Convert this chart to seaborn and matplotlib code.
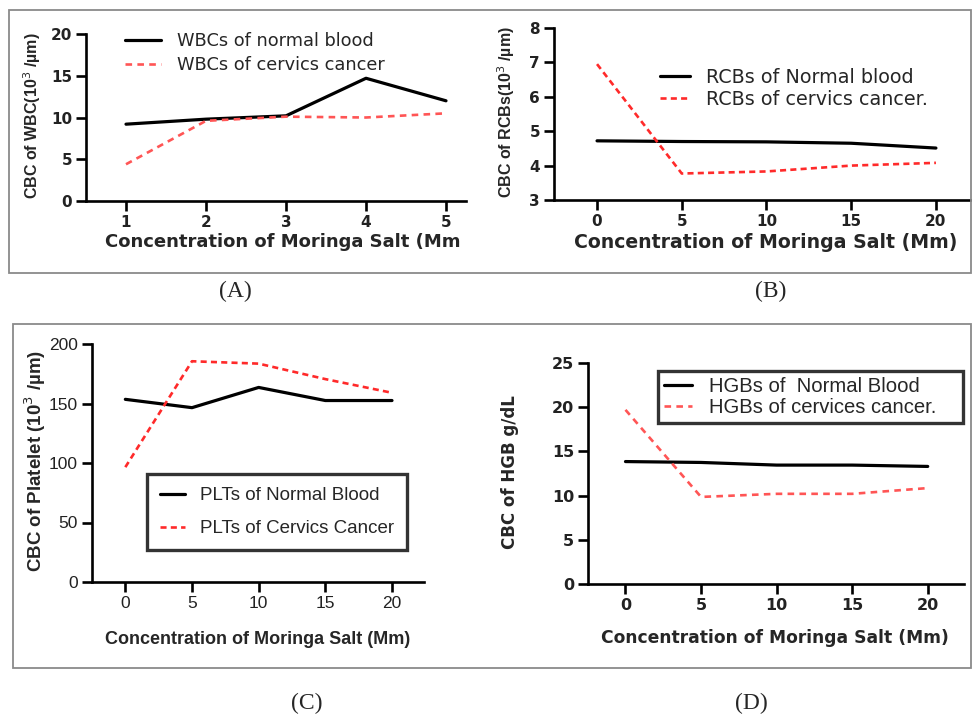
import numpy as np
import pandas as pd
import matplotlib
matplotlib.use("Agg")
import matplotlib.pyplot as plt
import seaborn as sns
from matplotlib.patches import Rectangle

# (A) white blood cells
wbc_conc = [1, 2, 3, 4, 5]
wbc_normal = [9.2, 9.8, 10.2, 14.7, 12.0]
wbc_cancer = [4.4, 9.6, 10.1, 10.0, 10.5]

# (B)-(D) share the concentration steps
conc = [0, 5, 10, 15, 20]
rbc_normal = [4.72, 4.70, 4.69, 4.65, 4.51]
rbc_cancer = [6.95, 3.77, 3.83, 4.00, 4.08]
plt_normal = [153.5, 146.5, 163.5, 152.5, 152.5]
plt_cancer = [96.5, 185.5, 183.5, 170.5, 159.0]
hgb_normal = [13.85, 13.75, 13.45, 13.45, 13.3]
hgb_cancer = [19.7, 9.85, 10.2, 10.2, 10.85]

xlabel = "Concentration of Moringa Salt (Mm)"

sns.set_style("ticks")
plt.rcParams["font.family"] = ["DejaVu Sans"]

W, H = 972, 715
fig = plt.figure(figsize=(W / 100, H / 100), dpi=100)

WIDE = ["DejaVu Sans"]
NARROW = ["Liberation Sans Narrow", "Liberation Sans"]
ARIAL = ["Liberation Sans"]
SERIF = ["Liberation Serif"]


def fx(x):
    return x / W


def fy(y):
    return 1 - y / H


def px_axes(x0, y0, x1, y1):
    return fig.add_axes([fx(x0), fy(y1), (x1 - x0) / W, (y1 - y0) / H])


def draw(ax, x, normal, cancer, lab_n, lab_c, red, dash):
    sns.lineplot(x=x, y=normal, color="black", lw=2.3, label=lab_n, ax=ax)
    sns.lineplot(x=x, y=cancer, color=red, lw=1.9, ls=(0, dash), label=lab_c, ax=ax)


def style(ax, xlim, ylim, xticks, yticks, tfont, tsize, tweight):
    ax.set_xlim(*xlim)
    ax.set_ylim(*ylim)
    ax.set_xticks(xticks)
    ax.set_yticks(yticks)
    sns.despine(ax=ax)
    for s in ["left", "bottom"]:
        ax.spines[s].set_linewidth(1.9)
        ax.spines[s].set_color("black")
    ax.tick_params(width=1.9, length=7, color="black", pad=3)
    for t in ax.get_xticklabels() + ax.get_yticklabels():
        t.set_family(tfont)
        t.set_fontsize(tsize)
        t.set_fontweight(tweight)
        t.set_color("#222222")


def labels(ax, ytext, yfont, ysize, ypos, xfont, xsize, xpos):
    ax.set_ylabel(ytext, family=yfont, fontsize=ysize, fontweight="bold")
    ax.yaxis.label.set_va("center")
    ax.yaxis.set_label_coords(fx(ypos[0]), fy(ypos[1]), transform=fig.transFigure)
    ax.set_xlabel(xlabel if xpos[2] else xlabel[:-1], family=xfont, fontsize=xsize,
                  fontweight="bold")
    ax.xaxis.label.set_va("center")
    ax.xaxis.set_label_coords(fx(xpos[0]), fy(xpos[1]), transform=fig.transFigure)


# grey frames round each row
fig.patches.append(Rectangle((fx(9), fy(273)), fx(962), 263 / H, transform=fig.transFigure,
                             fill=False, edgecolor="#8a8a8a", lw=1.3))
fig.patches.append(Rectangle((fx(13), fy(668)), fx(958), 344 / H, transform=fig.transFigure,
                             fill=False, edgecolor="#8a8a8a", lw=1.3))

# ---- (A)
axA = px_axes(86, 34, 466, 201)
draw(axA, wbc_conc, wbc_normal, wbc_cancer, "WBCs of normal blood",
     "WBCs of cervics cancer", "#ff5555", (2.5, 2.0))
style(axA, (0.5, 5.25), (0, 20), wbc_conc, [0, 5, 10, 15, 20], WIDE, 11, "bold")
labels(axA, "CBC of WBC(10$^3$ /µm)", NARROW, 11.5, (32, 116), WIDE, 13, (283, 242, False))
axA.legend(loc="upper left", bbox_to_anchor=(fx(118), fy(25)), bbox_transform=fig.transFigure,
           frameon=False, prop={"family": WIDE, "size": 12.8}, handlelength=2.0,
           handletextpad=0.9, labelspacing=0.34, borderaxespad=0)

# ---- (B)
axB = px_axes(554, 28, 971, 200)
draw(axB, conc, rbc_normal, rbc_cancer, "RCBs of Normal blood",
     "RCBs of cervics cancer.", "#ff2a2a", (2.3, 1.6))
style(axB, (-2.54, 22.07), (3, 8), conc, [3, 4, 5, 6, 7, 8], WIDE, 11, "bold")
labels(axB, "CBC of RCBs(10$^3$ /µm)", NARROW, 11.5, (506, 112), WIDE, 13.6, (766, 242, True))
axB.legend(loc="upper left", bbox_to_anchor=(fx(652), fy(60)), bbox_transform=fig.transFigure,
           frameon=False, prop={"family": WIDE, "size": 13.8}, handlelength=1.6,
           handletextpad=0.8, labelspacing=0.15, borderaxespad=0)

# ---- (C)
axC = px_axes(92, 344, 424, 582)
draw(axC, conc, plt_normal, plt_cancer, "PLTs of Normal Blood",
     "PLTs of Cervics Cancer", "#ff2a2a", (2.3, 1.6))
style(axC, (-2.5, 22.4), (0, 200), conc, [0, 50, 100, 150, 200], NARROW, 12.5, "normal")
labels(axC, "CBC of Platelet (10$^3$ /µm)", ARIAL, 13.5, (35, 461), ARIAL, 13, (258, 640, True))
legC = axC.legend(loc="upper left", bbox_to_anchor=(fx(147), fy(474)),
                  bbox_transform=fig.transFigure, frameon=True, fancybox=False,
                  prop={"family": NARROW, "size": 13.5}, handlelength=1.3,
                  handletextpad=0.8, labelspacing=0.85, borderaxespad=0,
                  borderpad=0.7)
legC.get_frame().set_edgecolor("black")
legC.get_frame().set_linewidth(2.4)

# ---- (D)
axD = px_axes(588, 363, 964, 584)
draw(axD, conc, hgb_normal, hgb_cancer, "HGBs of  Normal Blood",
     "HGBs of cervices cancer.", "#ff5555", (2.5, 2.0))
style(axD, (-2.48, 22.4), (0, 25), conc, [0, 5, 10, 15, 20, 25], WIDE, 11.5, "bold")
labels(axD, "CBC of HGB g/dL", WIDE, 12, (510, 472), WIDE, 12.3, (775, 638, True))
legD = axD.legend(loc="upper left", bbox_to_anchor=(fx(658), fy(371), fx(305), 0),
                  bbox_transform=fig.transFigure, frameon=True, fancybox=False,
                  mode="expand", prop={"family": ARIAL, "size": 14.6}, handlelength=1.4,
                  handletextpad=0.8, labelspacing=0.08, borderaxespad=0,
                  borderpad=0.3)
legD.get_frame().set_edgecolor("black")
legD.get_frame().set_linewidth(2.4)

# panel letters
for txt, x, y in [("(A)", 235, 291), ("(B)", 771, 291), ("(C)", 307, 703), ("(D)", 751, 703)]:
    fig.text(fx(x), fy(y), txt, family=SERIF, fontsize=17, ha="center", va="center")

fig.savefig("out.png", dpi=100)
